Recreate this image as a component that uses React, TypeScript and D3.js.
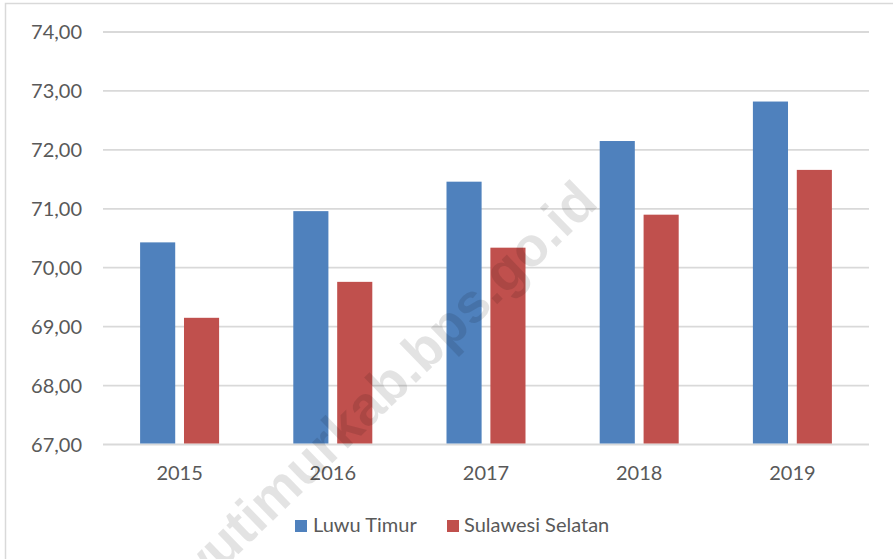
import React from "react";
import * as d3 from "d3";

const years = ["2015", "2016", "2017", "2018", "2019"];
const seriesNames = ["Luwu Timur", "Sulawesi Selatan"];
const luwuTimur = [70.43, 70.96, 71.46, 72.15, 72.82];
const sulawesiSelatan = [69.15, 69.76, 70.34, 70.9, 71.66];
const yTicks = [67, 68, 69, 70, 71, 72, 73, 74];
const colors = ["#4F81BD", "#C0504D"];

const W = 893;
const H = 559;
const FONT = "Lato, 'Open Sans', sans-serif";
const TEXT = "#595959";

export default function App() {
  const y = d3.scaleLinear().domain([67, 74]).range([444.5, 32]);
  const x0 = d3.scaleBand<string>().domain(years).range([103, 869]).paddingInner(0).paddingOuter(0);
  const x1 = d3.scaleBand<string>().domain(seriesNames).range([-39.5, 39.5]).paddingInner(0.2).paddingOuter(0);
  const values = [luwuTimur, sulawesiSelatan];
  const fmt = (v: number) => d3.format(".2f")(v).replace(".", ",");

  return (
    <svg
      width={W}
      height={H}
      style={{ position: "fixed", left: 0, top: 0, background: "#fff" }}
    >
      <rect x={0} y={0} width={W} height={H} fill="#fff" />
      <rect x={5.5} y={3.5} width={W + 20} height={H + 20} fill="none" stroke="#d9d9d9" strokeWidth={1.5} />
      {yTicks.map((t) => (
        <g key={t}>
          <line x1={103} x2={869} y1={y(t)} y2={y(t)} stroke="#d9d9d9" strokeWidth={t === 67 ? 2 : 1.8} />
          <text x={82} y={y(t) + 7} textAnchor="end" fontFamily={FONT} fontSize={20} fill={TEXT}>
            {fmt(t)}
          </text>
        </g>
      ))}
      {years.map((yr, i) => {
        const cx = (x0(yr) as number) + x0.bandwidth() / 2;
        return (
          <g key={yr}>
            {seriesNames.map((s, j) => (
              <rect
                key={s}
                x={cx + (x1(s) as number)}
                y={y(values[j][i])}
                width={x1.bandwidth()}
                height={y(67) - y(values[j][i]) - 1}
                fill={colors[j]}
              />
            ))}
            <text x={cx} y={480} textAnchor="middle" fontFamily={FONT} fontSize={20} fill={TEXT}>
              {yr}
            </text>
          </g>
        );
      })}
      <g>
        <rect x={295} y={520} width={12} height={12} fill={colors[0]} />
        <text x={313} y={532} fontFamily={FONT} fontSize={20} fill={TEXT}>{seriesNames[0]}</text>
        <rect x={447} y={520} width={12} height={12} fill={colors[1]} />
        <text x={464} y={532} fontFamily={FONT} fontSize={20} fill={TEXT}>{seriesNames[1]}</text>
      </g>
      <text
        transform="translate(600,205) rotate(-44)"
        textAnchor="end"
        fontFamily="'Liberation Sans', Arial, sans-serif"
        fontWeight="bold"
        fontSize={55}
        fill="#000"
        fillOpacity={0.11}
      >
        luwutimurkab.bps.go.id
      </text>
    </svg>
  );
}
